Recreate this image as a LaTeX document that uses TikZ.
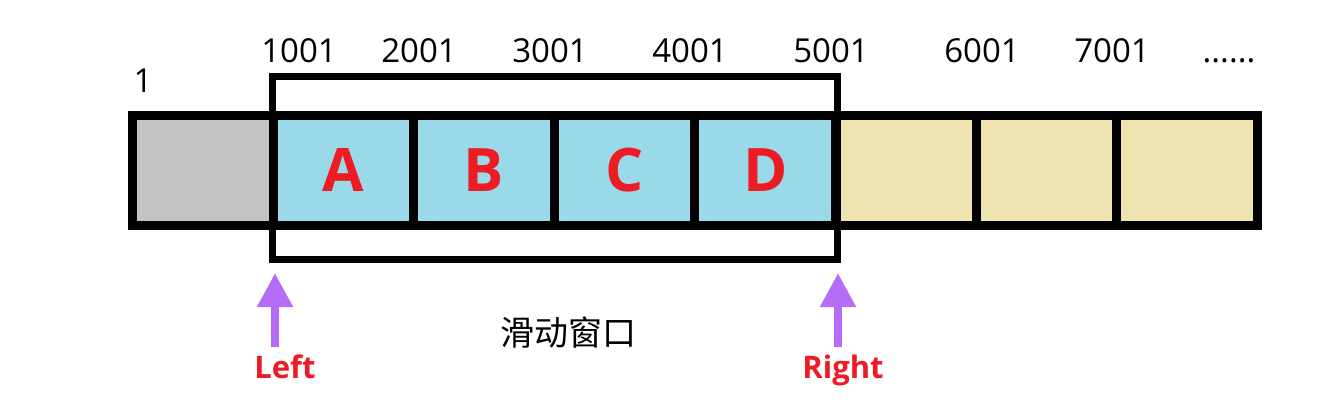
\documentclass[tikz,border=0pt]{standalone}
\usepackage{fontspec}
\setmainfont{Open Sans}
\newfontfamily\cjk{Noto Sans CJK SC}
\usetikzlibrary{calc,arrows.meta}
\definecolor{slotgray}{RGB}{195,195,195}
\definecolor{slotblue}{RGB}{153,217,234}
\definecolor{slotsand}{RGB}{239,228,176}
\definecolor{markred}{RGB}{237,28,36}
\definecolor{pointerpurple}{RGB}{181,108,247}
\tikzset{
  slot/.style={draw=black, line width=9pt, minimum width=140.6pt, minimum height=109.5pt, inner sep=0pt,
    text=markred, font=\fontsize{60}{60}\selectfont\bfseries},
  window/.style={draw=black, line width=7pt, minimum width=565pt, minimum height=183pt, inner sep=0pt},
  index/.style={anchor=base, inner sep=0pt, font=\fontsize{33}{33}\selectfont},
  pointer/.style={line width=8pt, pointerpurple, -{Triangle[length=34pt,width=34pt]}},
  ptrlabel/.style={anchor=base, inner sep=0pt, text=markred, font=\fontsize{31}{31}\selectfont\bfseries},
}

\begin{document}
\begin{tikzpicture}[x=1pt,y=-1pt]
        \useasboundingbox (0,0) rectangle (1327,405);

        % array slots
        \foreach \i/\c/\t in {0/slotgray/,1/slotblue/A,2/slotblue/B,3/slotblue/C,4/slotblue/D,5/slotsand/,6/slotsand/,7/slotsand/}{
          \node[slot,fill=\c] (s\i) at ({202.8+140.6*\i},170.25) {\t};
        }

        % the window over A..D
        \node[window] (win) at (555,167.5) {};

        % indices
        \node[index] (n1) at (143,92) {1};
        \foreach \x/\n in {299/1001,419/2001,550/3001,690/4001,831/5001,982/6001,1112/7001}{
          \node[index] (n\n) at (\x,62) {\n};
        }
        \node[index] (ndots) at (1229,62) {......};

        % caption
        \node[font=\cjk\fontsize{34}{34}\selectfont, inner sep=0pt] (caption) at (568,333) {滑动窗口};

        % left / right pointers
        \node[ptrlabel] (leftlabel) at (285,378) {Left};
        \node[ptrlabel] (rightlabel) at (843,378) {Right};
        \coordinate (ltail) at (275,347);
        \coordinate (rtail) at (838,347);
        \draw[pointer] (ltail) -- ($(ltail |- win.south)+(0,10.5)$);
        \draw[pointer] (rtail) -- ($(rtail |- win.south)+(0,10.5)$);
    \end{tikzpicture}
\end{document}
